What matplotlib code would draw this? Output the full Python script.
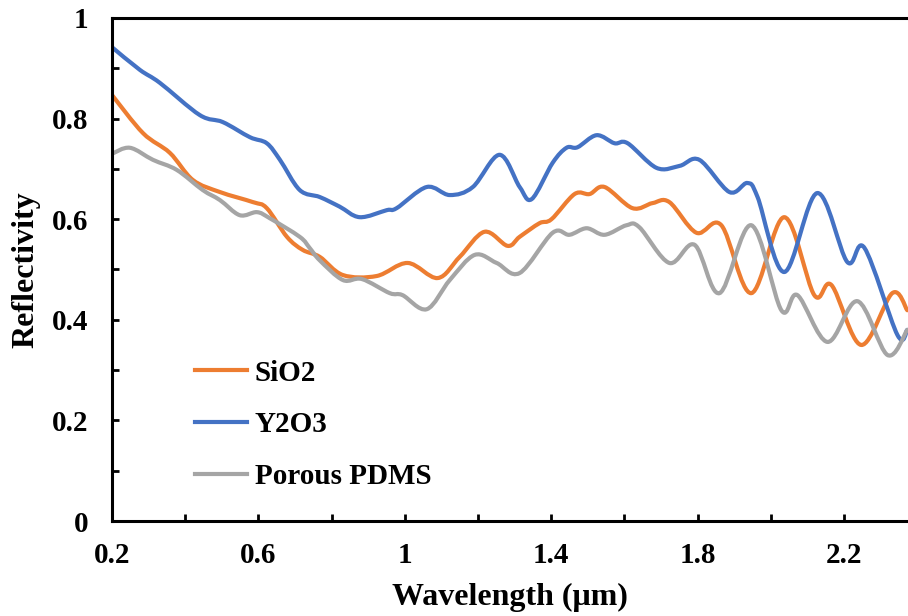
import numpy as np
import matplotlib
matplotlib.use("Agg")
from matplotlib import pyplot as plt
from matplotlib.lines import Line2D
from matplotlib.patches import PathPatch
from matplotlib.path import Path
from matplotlib.ticker import MultipleLocator

# DATA
sio2_x = [0.200, 0.285, 0.358, 0.421, 0.495, 0.585, 0.623, 0.678, 0.721, 0.768,
          0.831, 0.923, 1.008, 1.090, 1.150, 1.218, 1.281, 1.314, 1.368, 1.401,
          1.464, 1.505, 1.546, 1.622, 1.677, 1.723, 1.797, 1.865, 1.947, 2.037,
          2.119, 2.166, 2.247, 2.332, 2.373]
sio2_y = [0.847, 0.771, 0.732, 0.678, 0.654, 0.634, 0.622, 0.565, 0.539, 0.525,
          0.489, 0.487, 0.513, 0.483, 0.525, 0.575, 0.547, 0.565, 0.592, 0.600,
          0.650, 0.650, 0.664, 0.622, 0.632, 0.634, 0.573, 0.588, 0.453, 0.604,
          0.449, 0.469, 0.350, 0.453, 0.419]

y2o3_x = [0.200, 0.276, 0.331, 0.440, 0.503, 0.577, 0.623, 0.659, 0.713, 0.768,
          0.822, 0.877, 0.951, 0.978, 1.060, 1.123, 1.186, 1.259, 1.314, 1.347,
          1.404, 1.442, 1.472, 1.524, 1.573, 1.609, 1.688, 1.751, 1.805, 1.887,
          1.936, 1.964, 2.037, 2.127, 2.209, 2.256, 2.346, 2.373]
y2o3_y = [0.942, 0.897, 0.871, 0.807, 0.793, 0.763, 0.751, 0.718, 0.658, 0.644,
          0.625, 0.604, 0.618, 0.622, 0.664, 0.648, 0.664, 0.728, 0.664, 0.640,
          0.712, 0.742, 0.743, 0.767, 0.751, 0.751, 0.702, 0.706, 0.718, 0.654,
          0.672, 0.644, 0.495, 0.652, 0.515, 0.543, 0.370, 0.380]

pdms_x = [0.200, 0.249, 0.312, 0.377, 0.448, 0.495, 0.549, 0.596, 0.631, 0.713,
          0.740, 0.768, 0.831, 0.883, 0.959, 0.994, 1.060, 1.123, 1.191, 1.251,
          1.314, 1.404, 1.450, 1.497, 1.546, 1.606, 1.641, 1.723, 1.792, 1.860,
          1.947, 2.029, 2.073, 2.155, 2.237, 2.319, 2.373]
pdms_y = [0.730, 0.742, 0.718, 0.698, 0.658, 0.638, 0.608, 0.614, 0.602, 0.565,
          0.543, 0.518, 0.479, 0.481, 0.453, 0.449, 0.421, 0.479, 0.529, 0.513,
          0.493, 0.573, 0.569, 0.582, 0.569, 0.588, 0.584, 0.513, 0.549, 0.453,
          0.588, 0.419, 0.449, 0.356, 0.437, 0.330, 0.380]

series_names = ["SiO2", "Y2O3", "Porous PDMS"]
series_colors = ["#ED7D31", "#4472C4", "#A5A5A5"]

x_ticks = [0.2, 0.6, 1.0, 1.4, 1.8, 2.2]
x_tick_labels = ["0.2", "0.6", "1", "1.4", "1.8", "2.2"]
y_ticks = [0, 0.2, 0.4, 0.6, 0.8, 1.0]
y_tick_labels = ["0", "0.2", "0.4", "0.6", "0.8", "1"]


def smooth_path(xs, ys):
    # Excel-style "smoothed line": Bezier segments through every data point
    pts = np.column_stack([xs, ys])
    padded = np.vstack([pts[0], pts, pts[-1]])
    verts = [pts[0]]
    codes = [Path.MOVETO]
    for i in range(len(pts) - 1):
        p0, p1, p2, p3 = padded[i], padded[i + 1], padded[i + 2], padded[i + 3]
        verts += [p1 + (p2 - p0) / 6, p2 - (p3 - p1) / 6, p2]
        codes += [Path.CURVE4] * 3
    return Path(verts, codes)


# STYLE
plt.rcParams["font.family"] = ["Liberation Serif", "DejaVu Serif"]
plt.rcParams["font.weight"] = "bold"

fig = plt.figure(figsize=(9.08, 6.16), dpi=100)
ax = fig.add_axes([0.1233, 0.1542, 0.8767, 0.8166])

all_series = [(sio2_x, sio2_y), (y2o3_x, y2o3_y), (pdms_x, pdms_y)]
for (xs, ys), color in zip(all_series, series_colors):
    ax.add_patch(PathPatch(smooth_path(xs, ys), facecolor="none", edgecolor=color,
                           lw=3, joinstyle="round", capstyle="round"))

ax.set_xlim(0.2, 2.375)
ax.set_ylim(0, 1)

ax.set_xticks(x_ticks)
ax.set_xticklabels(x_tick_labels)
ax.set_yticks(y_ticks)
ax.set_yticklabels(y_tick_labels)
ax.xaxis.set_minor_locator(MultipleLocator(0.2))
ax.yaxis.set_minor_locator(MultipleLocator(0.1))

ax.tick_params(which="both", direction="in", length=5, width=2, labelsize=21)
ax.tick_params(axis="y", pad=17)
ax.tick_params(axis="x", pad=15)

for side in ["left", "bottom", "top"]:
    ax.spines[side].set_linewidth(2.2)
ax.spines["right"].set_visible(False)

ax.set_xlabel("Wavelength (μm)", fontsize=23, fontweight="bold", labelpad=10)
ax.set_ylabel("Reflectivity", fontsize=23, fontweight="bold", labelpad=8)

handles = [Line2D([], [], color=c, lw=3) for c in series_colors]
ax.legend(handles, series_names, loc="center left", bbox_to_anchor=(0.104, 0.191),
          frameon=False, fontsize=21, handlelength=1.8, handletextpad=0.25,
          labelspacing=0.85, borderpad=0, borderaxespad=0)

plt.savefig("out.png", dpi=100)
plt.close()
